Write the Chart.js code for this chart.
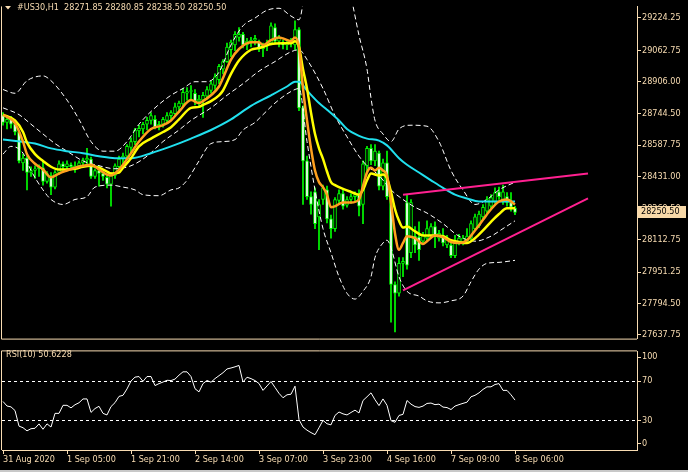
<!DOCTYPE html>
<html>
<head>
<meta charset="utf-8">
<script src="https://cdn.jsdelivr.net/npm/chart.js@4.4.0/dist/chart.umd.min.js"></script>
<style>
    html, body { margin: 0; padding: 0; background: #000; }
    body { width: 688px; height: 472px; position: relative; overflow: hidden; }
    #main { position: absolute; left: 0; top: 0; }
    #rsi { position: absolute; left: 0; top: 345px; }
    #strip { position: absolute; left: 0; bottom: 0; width: 688px; height: 2px; background: #c8c8c8; }
</style>
</head>
<body>
<canvas id="main" width="688" height="345"></canvas>
<canvas id="rsi" width="688" height="127"></canvas>
<div id="strip"></div>
<script>
// H1 candles, bar 0 = 31 Aug 2020
const openP = [28735,28701,28716,28692,28653,28498,28522,28450,28460,28469,28474,28406,28435,28377,28450,28494,28479,28489,28479,28484,
    28498,28513,28518,28431,28460,28445,28426,28392,28435,28479,28518,28532,28576,28605,28658,28668,28692,28711,28716,28677,
    28692,28711,28735,28745,28779,28794,28847,28856,28847,28808,28813,28832,28861,28886,28915,28968,29006,29065,29089,29127,
    29142,29089,29103,29113,29103,29069,29084,29098,29176,29108,29098,29089,29098,29089,29166,28774,28508,28329,28353,28228,
    28315,28363,28218,28169,28310,28344,28286,28315,28329,28339,28290,28484,28571,28508,28547,28382,28498,28329,27889,27845,
    27995,28300,28048,28131,28126,28106,28121,28135,28179,28121,28135,28087,28087,28034,28097,28102,28106,28121,28169,28184,
    28228,28257,28281,28305,28353,28305,28329,28300,28271.85];
const highP = [28750,28726,28731,28701,28663,28542,28532,28479,28484,28489,28508,28455,28450,28460,28508,28503,28508,28498,28503,28508,
    28522,28571,28527,28469,28484,28455,28445,28450,28494,28532,28547,28590,28624,28672,28687,28701,28726,28750,28735,28706,
    28726,28750,28760,28798,28808,28871,28876,28886,28866,28837,28852,28881,28910,28944,28992,29016,29098,29113,29156,29176,
    29152,29122,29127,29137,29113,29098,29113,29200,29195,29137,29113,29108,29122,29210,29176,28784,28532,28353,28373,28315,
    28387,28382,28237,28324,28363,28363,28329,28344,28353,28363,28508,28581,28590,28590,28557,28518,28557,28339,27903,28024,
    28024,28339,28315,28179,28203,28150,28208,28194,28203,28160,28169,28135,28106,28135,28140,28135,28169,28208,28242,28257,
    28290,28329,28339,28373,28377,28387,28349,28349,28280.85];
const lowP = [28687,28668,28672,28639,28498,28460,28363,28431,28421,28431,28387,28397,28339,28368,28440,28460,28465,28465,28450,28474,
    28489,28494,28421,28421,28382,28411,28373,28281,28421,28469,28494,28518,28547,28590,28629,28643,28663,28692,28668,28663,
    28677,28701,28716,28735,28750,28784,28813,28818,28789,28784,28726,28818,28847,28866,28895,28944,29002,29031,29060,29108,
    29074,29065,29079,29089,29055,29031,29060,29089,29098,29079,29069,29065,29079,29065,28760,28290,28315,28242,28169,28063,
    28290,28198,28121,28155,28290,28266,28276,28295,28305,28232,28194,28450,28489,28484,28363,28363,28315,27700,27652,27831,
    27928,27966,28024,28048,28010,28092,28106,28121,28073,28106,28082,28073,28024,28024,28087,28087,28097,28111,28160,28174,
    28218,28247,28271,28295,28315,28290,28281,28257,28238.50];
const closeP = [28701,28716,28692,28653,28508,28522,28450,28460,28469,28479,28406,28445,28377,28450,28494,28479,28494,28479,28484,28498,
    28513,28522,28431,28460,28445,28431,28392,28440,28484,28518,28532,28581,28605,28663,28672,28692,28711,28735,28677,28692,
    28716,28735,28750,28779,28798,28852,28856,28861,28808,28818,28837,28866,28895,28929,28982,29006,29079,29103,29142,29142,
    29089,29108,29113,29122,29069,29089,29098,29185,29108,29122,29089,29098,29108,29166,28774,28508,28329,28290,28194,28290,
    28373,28218,28169,28315,28344,28281,28315,28329,28339,28281,28494,28571,28508,28557,28382,28498,28329,27889,27845,27995,
    28005,27986,28300,28087,28063,28135,28169,28179,28135,28145,28097,28121,28034,28106,28121,28121,28131,28194,28228,28242,
    28276,28315,28324,28349,28329,28353,28300,28276,28250.50];

// indicator readings: [bar, value]
const fastMA = [[0,28740],[3,28697],[5,28605],[6,28542],[8,28494],[10,28465],[12,28426],[14,28445],[16,28460],[18,28474],
    [20,28484],[22,28489],[24,28465],[26,28440],[27,28435],[29,28465],[30,28489],[32,28547],[34,28605],[37,28668],[40,28687],
    [42,28711],[44,28755],[47,28813],[49,28798],[50,28808],[52,28837],[54,28881],[55,28924],[57,29016],[59,29069],[62,29103],
    [64,29103],[65,29089],[67,29113],[69,29127],[70,29122],[72,29108],[73,29127],[74,29079],[75,28871],[76,28711],[77,28571],
    [78,28460],[79,28402],[80,28377],[81,28339],[82,28276],[83,28281],[85,28300],[87,28300],[89,28315],[90,28382],[91,28450],
    [92,28474],[93,28460],[94,28474],[95,28460],[96,28435],[97,28300],[98,28145],[99,28063],[100,28097],[101,28131],[103,28121],
    [105,28092],[106,28106],[108,28135],[110,28126],[112,28102],[114,28097],[116,28111],[118,28160],[120,28213],[122,28266],
    [124,28305],[126,28315],[128,28290]];
const slowMA = [[0,28740],[3,28711],[5,28653],[6,28600],[8,28542],[10,28508],[12,28479],[14,28465],[16,28465],[18,28469],
    [20,28479],[22,28484],[24,28474],[26,28455],[27,28445],[29,28450],[30,28474],[32,28522],[34,28581],[37,28620],[40,28653],
    [42,28677],[44,28716],[47,28774],[49,28779],[50,28789],[52,28808],[54,28837],[55,28861],[57,28944],[59,29011],[62,29065],
    [64,29074],[65,29079],[67,29094],[70,29098],[72,29098],[73,29108],[74,29079],[75,28968],[76,28871],[77,28750],[78,28643],
    [79,28571],[80,28518],[81,28455],[82,28402],[83,28387],[85,28368],[87,28353],[89,28339],[90,28363],[91,28411],[92,28445],
    [94,28435],[95,28440],[96,28421],[97,28353],[98,28266],[99,28208],[100,28174],[101,28179],[103,28155],[105,28135],[108,28135],
    [110,28131],[112,28111],[114,28102],[116,28097],[118,28121],[120,28160],[122,28203],[124,28242],[126,28271],[128,28271]];
const longMA = [[0,28615],[8,28595],[12,28571],[16,28557],[20,28547],[24,28532],[28,28522],[32,28522],[37,28547],[42,28581],
    [47,28620],[52,28663],[57,28716],[62,28784],[67,28837],[71,28881],[73,28905],[74,28905],[76,28861],[79,28798],[81,28765],
    [84,28711],[86,28668],[89,28634],[91,28620],[94,28610],[96,28586],[99,28522],[101,28489],[104,28450],[107,28411],[110,28373],
    [113,28339],[116,28320],[119,28305],[128,28305]];
const bandUpper = [[0,28866],[3,28847],[6,28910],[10,28934],[12,28910],[16,28813],[19,28716],[22,28605],[25,28557],[28,28557],
    [31,28605],[34,28692],[38,28774],[42,28837],[45,28871],[48,28905],[51,28905],[54,28953],[57,29089],[60,29185],[63,29224],
    [66,29263],[69,29273],[72,29234],[74,29215],[76,29427],[80,29621],[84,29573],[87,29331],[89,29137],[91,28968],[92,28823],
    [93,28711],[95,28643],[97,28605],[99,28668],[102,28687],[106,28682],[109,28605],[112,28460],[115,28363],[118,28290],
    [121,28315],[124,28363],[128,28402]];
const bandMiddle = [[0,28774],[4,28740],[7,28692],[10,28643],[13,28595],[16,28557],[20,28508],[24,28484],[28,28469],[32,28484],
    [36,28532],[40,28605],[44,28663],[47,28711],[52,28774],[56,28837],[60,28895],[64,28958],[68,29006],[72,29055],[74,29065],
    [76,29016],[80,28871],[83,28735],[86,28629],[89,28532],[91,28484],[94,28435],[97,28363],[100,28315],[103,28276],[106,28247],
    [110,28194],[114,28131],[118,28106],[122,28131],[125,28169],[128,28208]];
const bandLower = [[0,28542],[2,28581],[5,28547],[7,28460],[10,28363],[12,28315],[15,28290],[18,28315],[21,28329],[23,28377],
    [27,28387],[30,28377],[33,28363],[35,28339],[39,28334],[42,28363],[44,28373],[46,28411],[49,28508],[52,28595],[55,28605],
    [58,28615],[60,28663],[63,28701],[65,28740],[68,28798],[72,28856],[74,28871],[76,28605],[78,28363],[80,28169],[82,28048],
    [84,27928],[86,27845],[88,27816],[90,27855],[92,27928],[93,28024],[95,28097],[96,28111],[97,28073],[99,27928],[101,27855],
    [104,27831],[106,27807],[109,27797],[112,27807],[115,27831],[117,27903],[119,27966],[121,27995],[124,28000],[128,28010]];
const trendTop = [[100,28339],[146.25,28445]];
const trendBottom = [[100,27860],[146.25,28320]];

const rsiValues = [49.2,44.6,43.7,40,24.1,22.5,19.3,21.5,21.9,26.4,
    20.9,26.4,23.2,37.1,37.1,45.3,45.3,42.7,45.9,47.9,
    51.8,51.8,38.1,42.0,44.3,37.1,35.5,44,48,54.4,
    55.5,62,70,74,74.6,69.7,74.6,74.6,65.4,67.4,
    69,70.8,70.5,72,76,79.4,79.4,74.6,62.2,59.0,
    67.4,70.6,68.8,72.5,75.5,78.5,82.3,83.3,84.5,85.9,
    69.0,73.9,72.5,70.5,67.5,60.5,65,69.5,63.5,57.5,
    53,56,56.6,64.8,30.7,23.2,20,17.5,15.4,22.5,
    30,26.5,25.4,35,38.5,36.6,35.5,38,40.4,37.5,
    50.2,54,58,51,45,51.8,45.3,29.7,28.0,35,
    36.1,50.2,46.5,44,43.2,44.5,47.2,47.6,46,46.5,
    43.5,43,41,44.5,46,47.3,48.5,54,55.5,58,
    61.5,64.1,64.1,66.5,67.4,60.5,60.5,56,50.6228];

const priceTicks = [29224.25, 29062.75, 28906.00, 28744.50, 28587.75, 28431.00, 28269.50, 28112.75, 27951.25, 27794.50, 27637.75];
const timeIdx = [0, 16, 32, 48, 64, 80, 96, 112, 128];
const timeLabels = ['31 Aug 2020', '1 Sep 05:00', '1 Sep 21:00', '2 Sep 14:00', '3 Sep 07:00', '3 Sep 23:00', '4 Sep 16:00', '7 Sep 09:00', '8 Sep 06:00'];
const rsiTickPos = [94.4, 70, 30, 6.6];
const rsiTickText = ['100', '70', '30', '0'];

const tan = '#f8dcb2';
const fontFamily = "'DejaVu Sans Condensed', 'Liberation Sans', sans-serif";
const font = { family: fontFamily, size: 9 };
const xMin = -0.25, xMax = 158.5;
const last = closeP.length - 1;

const pts = pairs => pairs.map(([x, y]) => ({ x, y }));
const line = (data, color, width, dash) => ({
    type: 'line', data: pts(data), borderColor: color, borderWidth: width,
    borderDash: dash || [], pointRadius: 0, fill: false, cubicInterpolationMode: 'monotone'
});

const mainDecor = {
    id: 'mainDecor',
    afterDraw(chart) {
        const { ctx, chartArea: a } = chart;
        ctx.save();
        ctx.strokeStyle = tan;
        ctx.lineWidth = 1;
        ctx.beginPath();
        ctx.moveTo(a.left - 0.5, a.top);
        ctx.lineTo(a.left - 0.5, a.bottom + 0.5);
        ctx.lineTo(a.right, a.bottom + 0.5);
        ctx.stroke();

        ctx.fillStyle = tan;
        ctx.beginPath();
        ctx.moveTo(5, 6); ctx.lineTo(11, 6); ctx.lineTo(8, 9.5);
        ctx.fill();
        ctx.font = '9px ' + fontFamily;
        ctx.textBaseline = 'middle';
        ctx.fillText('#US30,H1  ' + [openP[last], highP[last], lowP[last], closeP[last]].map(v => v.toFixed(2)).join(' '), 17, 8);

        // current price box on the axis
        const y = Math.round(chart.scales.y.getPixelForValue(closeP[last]));
        ctx.fillStyle = '#f8d9a8';
        ctx.fillRect(a.right + 1, y - 6, 48, 12);
        ctx.fillStyle = '#000';
        ctx.fillText(closeP[last].toFixed(2), a.right + 4, y);
        ctx.restore();
    }
};

new Chart(document.getElementById('main'), {
    type: 'bar',
    data: {
        datasets: [
            line(trendTop, '#ff2090', 2),
            line(trendBottom, '#ff2090', 2),
            line(fastMA, '#ffa01e', 2.5),
            line(slowMA, '#ffff00', 2.5),
            line(longMA, '#20e0ee', 2),
            line(bandUpper, '#ffffff', 1, [5, 3]),
            line(bandMiddle, '#ffffff', 1, [5, 3]),
            line(bandLower, '#ffffff', 1, [5, 3]),
            {
                type: 'bar',
                data: openP.map((o, i) => ({ x: i, y: [o, closeP[i]] })),
                backgroundColor: closeP.map((c, i) => c < openP[i] ? '#ffffff' : '#000000'),
                borderColor: '#00ff00', borderWidth: 1, borderSkipped: false,
                barThickness: 3, grouped: false
            },
            {
                type: 'bar',
                data: lowP.map((l, i) => ({ x: i, y: [l, highP[i]] })),
                backgroundColor: '#00ff00', borderWidth: 0,
                barThickness: 1, grouped: false
            }
        ]
    },
    options: {
        responsive: false,
        animation: false,
        layout: { padding: { left: 2, top: 0, right: 0, bottom: 1 } },
        plugins: { legend: { display: false }, tooltip: { enabled: false } },
        scales: {
            x: { type: 'linear', min: xMin, max: xMax, display: false, offset: false, grid: { offset: false } },
            y: {
                position: 'right', min: 27618, max: 29282.3,
                afterBuildTicks: s => { s.ticks = priceTicks.map(v => ({ value: v })); },
                afterFit: s => { s.width = 51; },
                ticks: { color: tan, font, padding: 1, autoSkip: false, callback: v => v.toFixed(2) },
                grid: { drawOnChartArea: false, tickLength: 4, tickColor: tan },
                border: { color: tan }
            }
        }
    },
    plugins: [mainDecor]
});

const rsiDecor = {
    id: 'rsiDecor',
    afterDraw(chart) {
        const { ctx, chartArea: a } = chart;
        ctx.save();
        ctx.strokeStyle = tan;
        ctx.lineWidth = 1;
        ctx.beginPath();
        ctx.moveTo(a.right, a.top - 0.5);
        ctx.lineTo(a.left - 0.5, a.top - 0.5);
        ctx.lineTo(a.left - 0.5, a.bottom);
        ctx.stroke();
        ctx.fillStyle = tan;
        ctx.font = '9px ' + fontFamily;
        ctx.textBaseline = 'middle';
        ctx.fillText('RSI(10) ' + rsiValues[last].toFixed(4), 6, 10);
        ctx.restore();
    }
};

new Chart(document.getElementById('rsi'), {
    type: 'line',
    data: {
        datasets: [{
            data: rsiValues.map((v, i) => ({ x: i, y: v })),
            borderColor: '#ffffff', borderWidth: 1, pointRadius: 0, fill: false, tension: 0
        }]
    },
    options: {
        responsive: false,
        animation: false,
        layout: { padding: { left: 2, top: 2, right: 0, bottom: 0 } },
        plugins: { legend: { display: false }, tooltip: { enabled: false } },
        scales: {
            x: {
                type: 'linear', min: xMin, max: xMax, offset: false,
                afterBuildTicks: s => { s.ticks = timeIdx.map(v => ({ value: v })); },
                afterFit: s => { s.height = 22; },
                ticks: { color: tan, font, padding: 0, align: 'start', autoSkip: false, maxRotation: 0,
                    callback: v => timeLabels[timeIdx.indexOf(v)] },
                grid: { drawOnChartArea: false, tickLength: 4, tickColor: tan },
                border: { color: tan }
            },
            y: {
                position: 'right', min: -0.2, max: 100.2,
                afterBuildTicks: s => { s.ticks = rsiTickPos.map(v => ({ value: v })); },
                afterFit: s => { s.width = 51; },
                ticks: { color: tan, font, padding: 1, autoSkip: false, callback: v => rsiTickText[rsiTickPos.indexOf(v)] },
                grid: {
                    color: c => (c.tick && (c.tick.value === 30 || c.tick.value === 70)) ? '#ffffff' : 'rgba(0,0,0,0)',
                    tickColor: tan, tickLength: 4
                },
                border: { color: tan, dash: [3, 3] }
            }
        }
    },
    plugins: [rsiDecor]
});
</script>
</body>
</html>
